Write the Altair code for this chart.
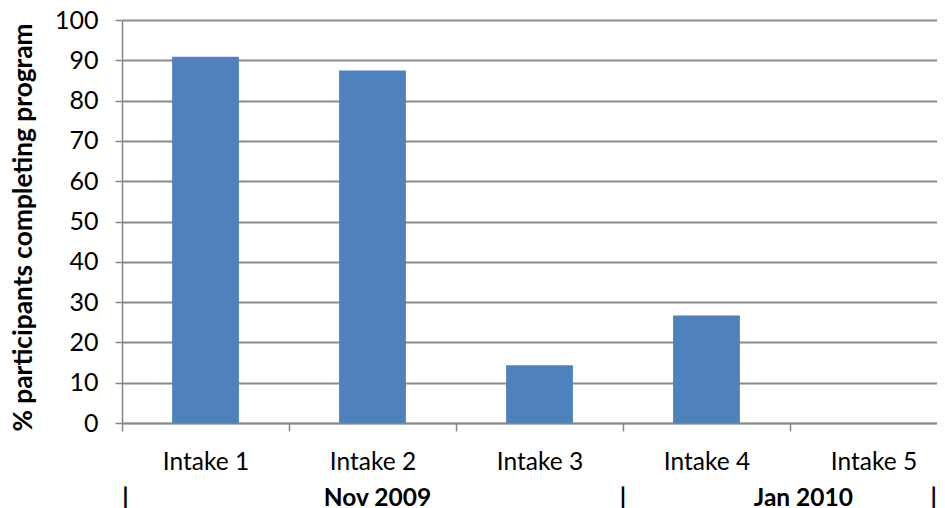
import altair as alt
import pandas as pd

categories = ["Intake 1", "Intake 2", "Intake 3", "Intake 4", "Intake 5"]
values = [90.9, 87.5, 14.3, 26.7, 0.0]

period_labels = ["|", "Nov 2009", "|", "Jan 2010", "|"]
period_slots = [0.02, 1.53, 3.0, 4.08, 4.86]  # position in category units along the axis

y_ticks = list(range(0, 101, 10))

FONT = "Lato"
GRID = "#8a8a8a"

bars_df = pd.DataFrame({"intake": categories, "pct": values})
period_df = pd.DataFrame({"label": period_labels, "slot": period_slots})

PLOT_W = 815
FULL_W = 835  # full band range (plot extends past the visible edge)
PLOT_H = 403
STEP = FULL_W / len(categories)

bars = alt.Chart(bars_df).mark_bar(color="#4f81bd").encode(
    x=alt.X(
        "intake:N",
        sort=categories,
        scale=alt.Scale(range=[0, FULL_W], paddingInner=0.6, paddingOuter=0.3),
        axis=alt.Axis(
            title=None,
            labelAngle=0,
            labelFont=FONT,
            labelFontSize=24.5,
            labelColor="#000000",
            labelPadding=19,
            tickOffset=-STEP / 2,
            labelOffset=STEP / 2,
            tickSize=8,
            tickColor="#868686",
            tickWidth=1.5,
            domainColor="#868686",
            domainWidth=1.5,
            grid=False,
        ),
    ),
    y=alt.Y(
        "pct:Q",
        scale=alt.Scale(domain=[0, 100], nice=False),
        axis=alt.Axis(
            title="% participants completing program",
            titleFont=FONT,
            titleFontSize=26.3,
            titleFontWeight="bold",
            titleColor="#000000",
            titlePadding=17,
            titleY=207,
            values=y_ticks,
            labelFont=FONT,
            labelFontSize=25,
            labelColor="#000000",
            labelPadding=17,
            tickSize=7,
            tickColor="#868686",
            tickWidth=1.5,
            domainColor="#868686",
            domainWidth=1.5,
            grid=True,
            gridColor=GRID,
            gridWidth=2,
        ),
    ),
)

periods = alt.Chart(period_df).mark_text(
    font=FONT, fontSize=24.5, fontWeight="bold", color="#000000", baseline="middle", align="center"
).encode(
    x=alt.X("slot:Q", scale=alt.Scale(domain=[0, 5], range=[0, FULL_W]), axis=None),
    y=alt.value(479),
    text="label:N",
)

chart = alt.layer(bars, periods).resolve_scale(x="independent").properties(
    width=PLOT_W,
    height=PLOT_H,
    autosize=alt.AutoSizeParams(type="none"),
    padding={"left": 114, "top": 12, "right": 0, "bottom": 85},
).configure_view(stroke=None).configure(background="white")

chart.save("out.html", embed_options={"renderer": "svg", "actions": False})
